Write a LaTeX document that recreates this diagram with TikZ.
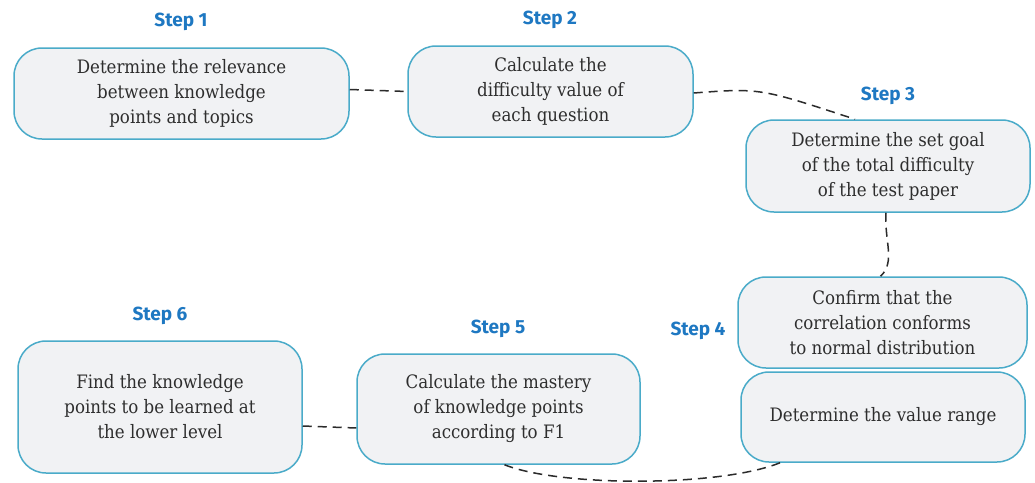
\documentclass[tikz,border=0pt]{standalone}
\usepackage{fontspec}
\setmainfont{DejaVu Serif Condensed}
\newfontfamily\stepfont{Fira Sans}
\definecolor{boxborder}{HTML}{4AABC9}
\definecolor{boxfill}{HTML}{F1F2F4}
\definecolor{steptext}{HTML}{1E78C2}
\definecolor{bodytext}{HTML}{2E2E2E}
\definecolor{linkcol}{HTML}{2B2B2B}
\begin{document}
\begin{tikzpicture}[x=1pt,y=-1pt,
  stepbox/.style={draw=boxborder, fill=boxfill, line width=1.5pt, rounded corners=28pt,
    align=center, text=bodytext, inner sep=0pt,
    font=\fontsize{18.5}{25}\selectfont},
  steplabel/.style={text=steptext, font=\stepfont\bfseries\fontsize{19}{21}\selectfont, inner sep=0pt},
  link/.style={draw=linkcol, line width=1.5pt, dash pattern=on 9pt off 6pt}]
\useasboundingbox (0,0) rectangle (1035,482);
\fill[white] (0,0) rectangle (1035,482);

\node[stepbox, minimum width=335pt, minimum height=91pt] (b1) at (181.5,93.5)
  {Determine the relevance\\between knowledge\\points and topics};
\node[stepbox, minimum width=285pt, minimum height=91pt] (b2) at (550.5,91.5)
  {Calculate the\\difficulty value of\\each question};
\node[stepbox, minimum width=284pt, minimum height=92pt] (b3) at (888,166)
  {Determine the set goal\\of the total difficulty\\of the test paper};
\node[stepbox, minimum width=289pt, minimum height=91pt] (b4a) at (882.5,322.5)
  {Confirm that the\\correlation conforms\\to normal distribution};
\node[stepbox, minimum width=284pt, minimum height=90pt] (b4b) at (883,417)
  {Determine the value range};
\node[stepbox, minimum width=283pt, minimum height=110pt] (b5) at (498.5,409)
  {Calculate the mastery\\of knowledge points\\according to F1};
\node[stepbox, minimum width=284pt, minimum height=132pt] (b6) at (160,407)
  {Find the knowledge\\points to be learned at\\the lower level};

\node[steplabel] (s1) at (181,22) {Step 1};
\node[steplabel] (s2) at (550,20) {Step 2};
\node[steplabel] (s3) at (888,96) {Step 3};
\node[steplabel] (s4) at (698,331) {Step 4};
\node[steplabel] (s5) at (498,329) {Step 5};
\node[steplabel] (s6) at (160,316) {Step 6};

\draw[link] ([yshift=4pt]b1.east) -- ([yshift=0pt]b2.west);
\draw[link] ([yshift=-1.5pt]b2.east) .. controls (760,88) .. ([xshift=-33pt]b3.north);
\draw[link] ([xshift=-2pt]b3.south) .. controls (884,240) and (896,262) .. ([xshift=-2pt]b4a.north);
\draw[link] ([xshift=-103pt]b4b.south) .. controls (720,487) and (560,487) .. ([xshift=6pt]b5.south);
\draw[link] ([yshift=-19pt]b6.east) -- ([yshift=-19pt]b5.west);
\end{tikzpicture}
\end{document}
